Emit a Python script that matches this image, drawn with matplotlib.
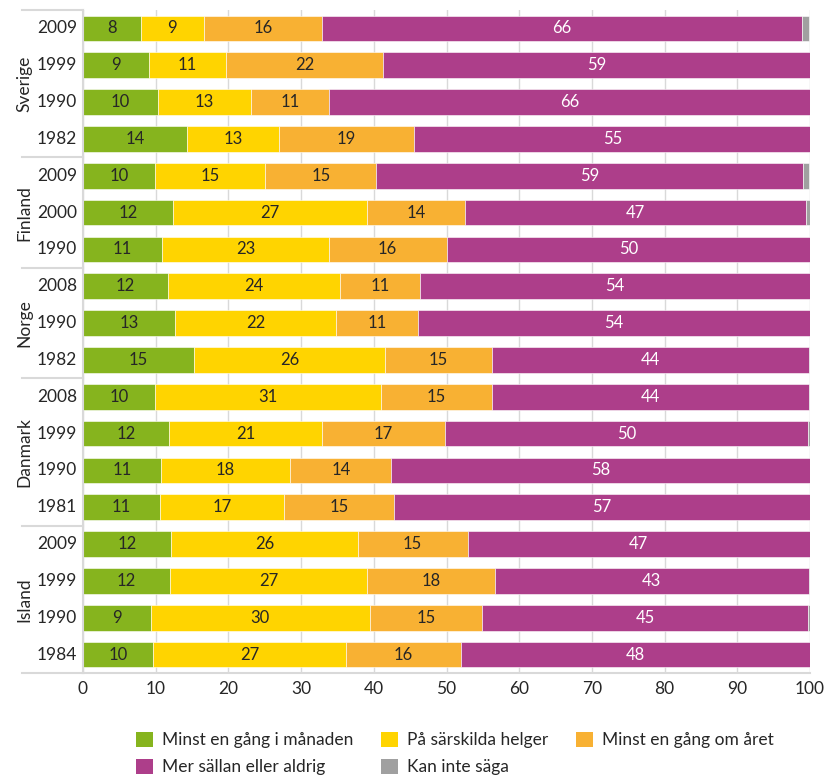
import matplotlib
matplotlib.use("Agg")
import matplotlib.pyplot as plt
import matplotlib.transforms as mtransforms
from matplotlib.patches import Patch

plt.rcParams['font.family'] = ['Lato', 'DejaVu Sans']

countries = ["Sverige", "Finland", "Norge", "Danmark", "Island"]
group_sizes = [4, 3, 3, 4, 4]
years = ["2009", "1999", "1990", "1982",
         "2009", "2000", "1990",
         "2008", "1990", "1982",
         "2008", "1999", "1990", "1981",
         "2009", "1999", "1990", "1984"]

series_names = ["Minst en gång i månaden", "På särskilda helger", "Minst en gång om året",
                "Mer sällan eller aldrig", "Kan inte säga"]
colors = ["#86B41E", "#FFD400", "#F8B133", "#AD3E8A", "#A0A0A0"]

manad = [8.0, 9.1, 10.3, 14.3, 9.9, 12.4, 10.9, 11.7, 12.7, 15.3, 9.9, 11.8, 10.7, 10.6, 12.1, 12.0, 9.3, 9.6]
helger = [8.6, 10.6, 12.8, 12.6, 15.2, 26.6, 22.9, 23.6, 22.1, 26.2, 31.1, 21.1, 17.8, 17.1, 25.7, 27.1, 30.2, 26.6]
aret = [16.3, 21.6, 10.7, 18.6, 15.2, 13.6, 16.2, 11.1, 11.3, 14.7, 15.3, 16.9, 13.9, 15.1, 15.1, 17.6, 15.4, 15.8]
sallan = [66.0, 58.7, 66.2, 54.6, 58.8, 46.9, 50.0, 53.6, 53.9, 43.6, 43.6, 49.9, 57.6, 57.2, 47.1, 43.1, 44.8, 48.0]
vet_ej = [1.0, 0.2, 0, 0, 0.8, 0.5, 0, 0, 0, 0.2, 0.2, 0.3, 0, 0, 0, 0.2, 0.3, 0]

series = [manad, helger, aret, sallan, vet_ej]
label_colors = ["#262626", "#262626", "#262626", "white", None]

W, H = 832, 779
fig = plt.figure(figsize=(W / 100, H / 100), dpi=100)
ax = fig.add_axes([83 / W, (H - 673) / H, (810 - 83) / W, (673 - 10) / H])

rows = list(range(len(years)))
left = [0.0] * len(years)
for vals, col, lc in zip(series, colors, label_colors):
    ax.barh(rows, vals, left=left, height=0.7, color=col, edgecolor="white",
            linewidth=0.4, zorder=2)
    if lc is not None:
        for r, v, l in zip(rows, vals, left):
            ax.text(l + v / 2, r, f"{v:.0f}", ha="center", va="center",
                    fontsize=12, color=lc, zorder=3)
    left = [a + b for a, b in zip(left, vals)]

ax.set_xlim(0, 100)
ax.set_ylim(len(years) - 0.5, -0.5)
ax.set_xticks(range(0, 101, 10))
ax.set_yticks(rows)
ax.set_yticklabels([])
ax.tick_params(axis="both", length=0, labelsize=12.5, colors="#262626")
ax.tick_params(axis="x", pad=6)
ax.grid(axis="x", color="#D9D9D9", linewidth=1, zorder=0)
ax.set_axisbelow(True)
for s in ["top", "right"]:
    ax.spines[s].set_visible(False)
ax.spines["left"].set_color("#D9D9D9")
ax.spines["bottom"].set_color("#D9D9D9")
ax.spines["left"].set_linewidth(1.5)
ax.spines["bottom"].set_linewidth(1.5)

# year labels and country group labels with separators
trans = mtransforms.blended_transform_factory(ax.transAxes, ax.transData)
for r, y in zip(rows, years):
    ax.text(-0.008, r, y, ha="right", va="center", fontsize=12.5,
            color="#262626", transform=trans)

start = 0
bounds = [-0.5]
for name, n in zip(countries, group_sizes):
    mid = start + (n - 1) / 2
    ax.text(-0.08, mid, name, rotation=90, ha="center", va="center",
            fontsize=12.5, color="#262626", transform=trans)
    start += n
    bounds.append(start - 0.5)
for b in bounds:
    ax.plot([-0.084, 0], [b, b], color="#D9D9D9", linewidth=1.5,
            transform=trans, clip_on=False)

# legend filled row by row like the original
order = [0, 3, 1, 4, 2]
handles = [Patch(facecolor=colors[i], edgecolor="none") for i in order]
labels = [series_names[i] for i in order]
fig.legend(handles, labels, ncol=3, loc="upper left",
           bbox_to_anchor=(120 / W, 1 - 716 / H), frameon=False,
           fontsize=12.5, handlelength=1.0, handleheight=1.0, handletextpad=0.5,
           columnspacing=1.6, labelspacing=0.6, labelcolor="#262626")

fig.savefig("out.png", dpi=100)
